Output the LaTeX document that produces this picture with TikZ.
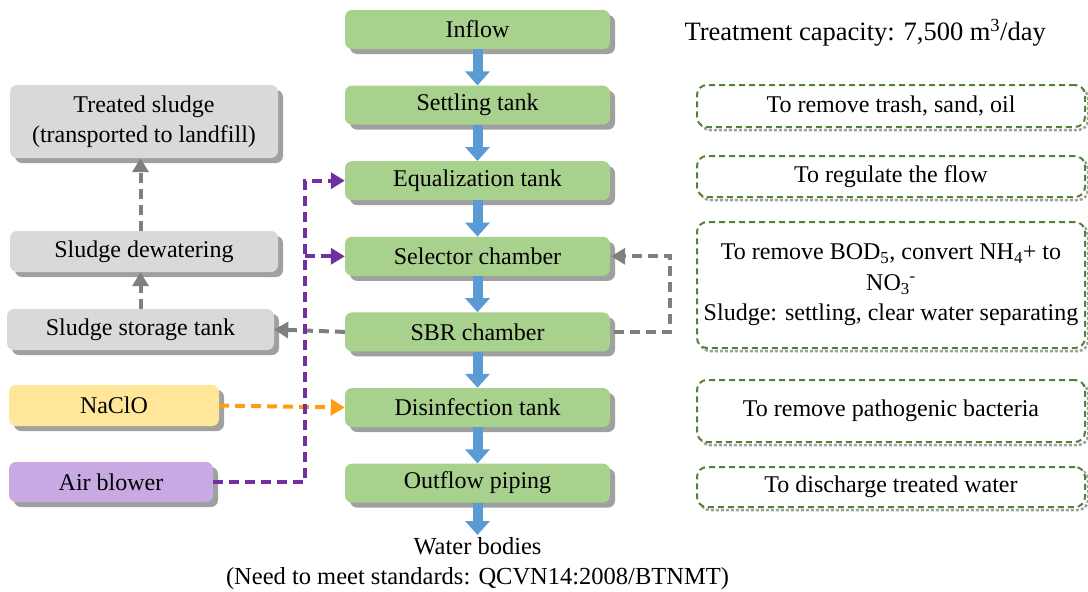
\documentclass[tikz,border=0pt]{standalone}
\usepackage{fontspec}
\setmainfont{Liberation Serif}
\usepackage{xcolor}
\usetikzlibrary{arrows.meta,positioning,shadows}
\definecolor{tankgreen}{HTML}{A9D18E}
\definecolor{sludgegray}{HTML}{D9D9D9}
\definecolor{saltyellow}{HTML}{FFE699}
\definecolor{airpurple}{HTML}{C9A9E3}
\definecolor{flowblue}{HTML}{5B9BD5}
\definecolor{linepurple}{HTML}{7030A0}
\definecolor{lineorange}{HTML}{FF9F0F}
\definecolor{linegray}{HTML}{7F7F7F}
\definecolor{notegreen}{HTML}{548235}
\definecolor{shadowgray}{HTML}{A0A0A0}

\begin{document}
\begin{tikzpicture}[x=1pt, y=-1pt, font=\fontsize{24}{30.5}\selectfont, box/.style={rounded corners=7pt, align=center, inner sep=2pt, drop shadow={shadow xshift=5pt, shadow yshift=-5pt, fill=shadowgray, opacity=1}}, tank/.style={box, fill=tankgreen, minimum width=265pt, minimum height=39pt}, side/.style={box, minimum height=41pt}, note/.style={draw=notegreen, line width=2pt, dash pattern=on 6pt off 4pt, rounded corners=10pt, fill=white, align=center, minimum width=388pt, inner sep=1pt, drop shadow={shadow xshift=3pt, shadow yshift=-3pt, fill=none, draw=shadowgray, line width=2.5pt, dash pattern=on 3pt off 2pt, opacity=1}}, flow/.style={draw=flowblue, line width=10pt, -{Triangle[width=24pt,length=14pt]}}, dline/.style={line width=4pt, dash pattern=on 10pt off 6pt, -{Triangle[width=16pt,length=14pt]}}]
\useasboundingbox (0,0) rectangle (1088,592);
% treatment line
\node[tank] (inflow) at (477.5,29.5) {Inflow};
\node[tank, below=36.2pt of inflow] (settle) {Settling tank};
\node[tank, below=36.2pt of settle] (equal) {Equalization tank};
\node[tank, below=36.2pt of equal] (select) {Selector chamber};
\node[tank, below=36.2pt of select] (sbr) {SBR chamber};
\node[tank, below=36.2pt of sbr] (disinf) {Disinfection tank};
\node[tank, below=36.2pt of disinf] (outflow) {Outflow piping};
\node[anchor=north, align=center, inner sep=2pt, font=\fontsize{24.5}{30.5}\selectfont] (water) at (477.5,535) {Water bodies\\(Need to meet standards: QCVN14:2008/BTNMT)};
\node[anchor=west, font=\fontsize{26.5}{30}\selectfont] (capacity) at (681,33) {Treatment capacity: 7,500 m\textsuperscript{3}/day};
% sludge and inputs
\node[side, fill=sludgegray, minimum width=268pt, minimum height=73pt] (treated) at (144,121.5) {Treated sludge\\(transported to landfill)};
\node[side, fill=sludgegray, minimum width=268pt] (dewater) at (144,251.5) {Sludge dewatering};
\node[side, fill=sludgegray, minimum width=267pt] (storage) at (140.5,329.5) {Sludge storage tank};
\node[side, fill=saltyellow, minimum width=210pt] (naclo) at (114,405.5) {NaClO};
\node[side, fill=airpurple, minimum width=204pt, minimum height=40pt] (blower) at (111,482) {Air blower};
% notes
\node[note, minimum height=42pt] (trash) at (891,106) {To remove trash, sand, oil};
\node[note, minimum height=41pt] (regulate) at (891,176.5) {To regulate the flow};
\node[note, minimum height=126pt] (bod) at (891,285) {To remove BOD\textsubscript{5}, convert NH\textsubscript{4}+ to\\NO\textsubscript{3}\textsuperscript{-}\\Sludge: settling, clear water separating};
\node[note, minimum height=62pt] (pathogen) at (891,411) {To remove pathogenic bacteria};
\node[note, minimum height=40pt] (discharge) at (891,487) {To discharge treated water};
% main flow
\draw[flow] (inflow) -- (settle);
\draw[flow] (settle) -- (equal);
\draw[flow] (equal) -- (select);
\draw[flow] (select) -- (sbr);
\draw[flow] (sbr) -- (disinf);
\draw[flow] (disinf) -- (outflow);
\draw[flow] (outflow) -- (water);
% dashed lines
\draw[dline, linegray] (sbr.west) -- (storage.east);
\draw[dline, linegray] (storage.north) -- (storage.north |- dewater.south);
\draw[dline, linegray] (storage.north |- dewater.north) -- (storage.north |- treated.south);
\draw[dline, linegray] ([xshift=4pt]sbr.east) -- ([xshift=60pt]sbr.east) |- ([xshift=1pt]select.east);
\draw[dline, lineorange] (naclo.east) -- (disinf.west);
\draw[dline, linepurple] (blower.east) -| ([xshift=-40pt]equal.west) -- (equal.west);
\draw[dline, linepurple] ([xshift=-40pt]select.west) -- (select.west);
\end{tikzpicture}
\end{document}
